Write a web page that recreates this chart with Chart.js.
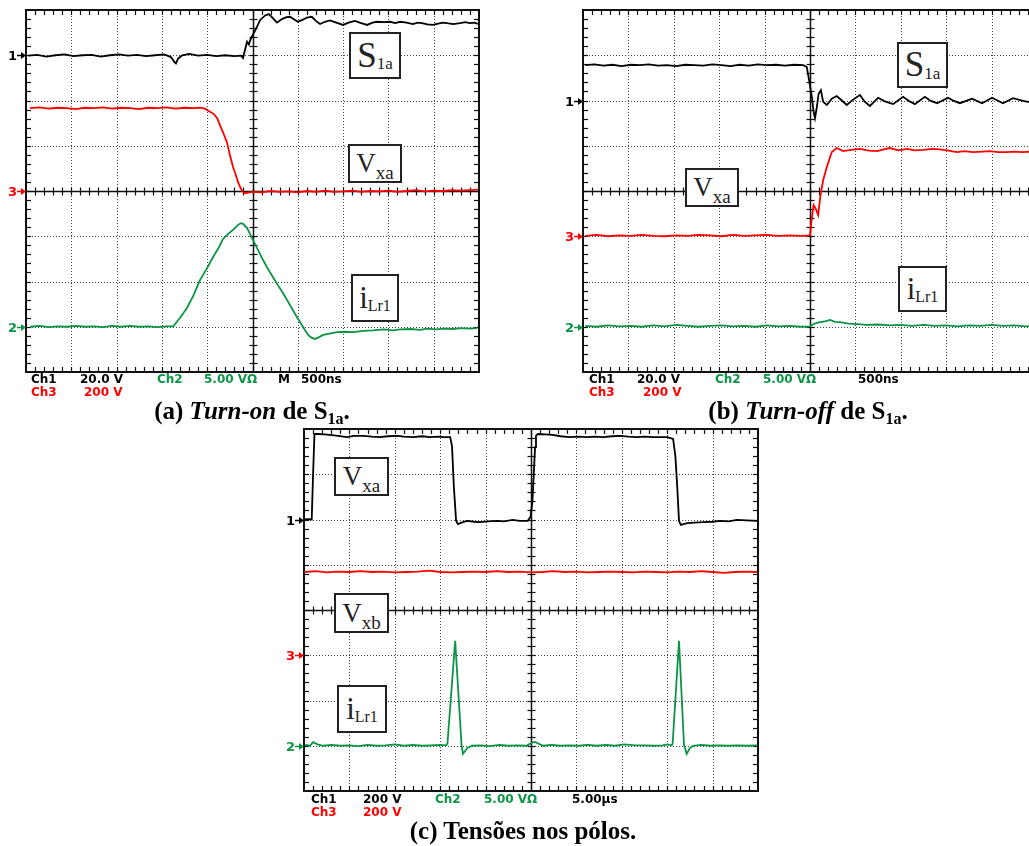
<!DOCTYPE html>
<html>
<head>
<meta charset="utf-8">
<script src="https://cdn.jsdelivr.net/npm/chart.js"></script>
<style>
  html, body { margin: 0; padding: 0; background: #fff; overflow: hidden; }
  body { width: 1029px; height: 846px; position: relative; }
  canvas { position: absolute; }
  .box { position: absolute; border: 2px solid #222; background: #fff; box-sizing: border-box;
         display: flex; justify-content: center; align-items: center; font-family: "Liberation Serif", serif; color: #222; z-index: 2; }
  .box .sub { position: relative; top: 0.5em; }
  .scope { position: absolute; font-family: "DejaVu Sans", sans-serif; font-weight: bold; font-size: 12px; line-height: 13px; white-space: pre; }
  .cap { position: absolute; font-family: "Liberation Serif", serif; font-weight: bold; font-size: 25px; line-height: 28px; text-align: center; color: #000; }
  .cap .s { font-size: 16px; position: relative; top: 0.3em; }
</style>
</head>
<body>
<canvas id="chartA" width="490" height="380" style="left:0px;top:0px"></canvas>
<canvas id="chartB" width="490" height="380" style="left:556px;top:0px"></canvas>
<canvas id="chartC" width="490" height="380" style="left:278px;top:419px"></canvas>

<div class="box" style="left:349px;top:32px;width:52px;height:47px"><span style="font-size:35px">S</span><span class="sub" style="font-size:17px">1a</span></div>
<div class="box" style="left:348px;top:144px;width:54px;height:39px"><span style="font-size:27px">V</span><span class="sub" style="font-size:19px">xa</span></div>
<div class="box" style="left:351px;top:274px;width:48px;height:48px"><span style="font-size:31px">i</span><span class="sub" style="font-size:16px">Lr1</span></div>

<div class="box" style="left:685px;top:168px;width:54px;height:39px"><span style="font-size:27px">V</span><span class="sub" style="font-size:19px">xa</span></div>
<div class="box" style="left:897px;top:42px;width:51px;height:46px"><span style="font-size:35px">S</span><span class="sub" style="font-size:17px">1a</span></div>
<div class="box" style="left:898px;top:266px;width:49px;height:46px"><span style="font-size:31px">i</span><span class="sub" style="font-size:16px">Lr1</span></div>

<div class="box" style="left:334px;top:457px;width:55px;height:39px"><span style="font-size:27px">V</span><span class="sub" style="font-size:19px">xa</span></div>
<div class="box" style="left:334px;top:593px;width:55px;height:40px"><span style="font-size:27px">V</span><span class="sub" style="font-size:19px">xb</span></div>
<div class="box" style="left:337px;top:685px;width:50px;height:48px"><span style="font-size:31px">i</span><span class="sub" style="font-size:16px">Lr1</span></div>

<div class="scope" style="left:31px;top:373px;color:#000">Ch1</div>
<div class="scope" style="left:80px;top:373px;color:#000">20.0 V</div>
<div class="scope" style="left:157px;top:373px;color:#0a9444">Ch2</div>
<div class="scope" style="left:204px;top:373px;color:#0a9444">5.00 VΩ</div>
<div class="scope" style="left:278px;top:373px;color:#000">M</div>
<div class="scope" style="left:301px;top:373px;color:#000">500ns</div>
<div class="scope" style="left:31px;top:386px;color:#f00">Ch3</div>
<div class="scope" style="left:84px;top:386px;color:#f00">200 V</div>

<div class="scope" style="left:589px;top:373px;color:#000">Ch1</div>
<div class="scope" style="left:637px;top:373px;color:#000">20.0 V</div>
<div class="scope" style="left:715px;top:373px;color:#0a9444">Ch2</div>
<div class="scope" style="left:763px;top:373px;color:#0a9444">5.00 VΩ</div>
<div class="scope" style="left:858px;top:373px;color:#000">500ns</div>
<div class="scope" style="left:589px;top:386px;color:#f00">Ch3</div>
<div class="scope" style="left:643px;top:386px;color:#f00">200 V</div>

<div class="scope" style="left:311px;top:793px;color:#000">Ch1</div>
<div class="scope" style="left:363px;top:793px;color:#000">200 V</div>
<div class="scope" style="left:435px;top:793px;color:#0a9444">Ch2</div>
<div class="scope" style="left:484px;top:793px;color:#0a9444">5.00 VΩ</div>
<div class="scope" style="left:572px;top:793px;color:#000">5.00µs</div>
<div class="scope" style="left:311px;top:806px;color:#f00">Ch3</div>
<div class="scope" style="left:363px;top:806px;color:#f00">200 V</div>

<div class="cap" style="left:52px;top:397px;width:400px">(a) <i>Turn-on</i> de S<span class="s">1a</span>.</div>
<div class="cap" style="left:608px;top:397px;width:400px">(b) <i>Turn-off</i> de S<span class="s">1a</span>.</div>
<div class="cap" style="left:323px;top:817px;width:400px">(c) Tensões nos pólos.</div>

<script>
// values in scope divisions: [time div, vertical div]
const turnOnS1a = [[0.05,2.99],[0.25,3.01],[0.45,2.97],[0.65,3.0],[0.85,3.02],[1.05,2.98],[1.25,3.0],[1.45,3.01],[1.65,2.97],[1.85,3.0],[2.05,3.02],[2.25,2.99],[2.45,3.01],[2.65,2.98],[2.85,3.0],[3.05,3.02],[3.2,2.96],[3.27,2.86],[3.31,2.82],[3.36,2.93],[3.45,3.0],[3.6,3.03],[3.8,2.99],[4.0,3.01],[4.2,2.98],[4.4,3.0],[4.6,2.98],[4.75,2.99],[4.79,2.94],[4.88,3.3],[4.92,3.24],[4.96,3.36],[5.06,3.55],[5.17,3.78],[5.28,3.88],[5.36,3.91],[5.45,3.82],[5.54,3.72],[5.65,3.8],[5.75,3.84],[5.83,3.85],[5.92,3.79],[6.0,3.74],[6.1,3.78],[6.2,3.83],[6.31,3.85],[6.4,3.76],[6.49,3.69],[6.6,3.74],[6.71,3.77],[6.85,3.72],[7.0,3.67],[7.12,3.72],[7.26,3.76],[7.4,3.71],[7.53,3.67],[7.65,3.72],[7.75,3.74],[7.9,3.73],[8.04,3.74],[8.15,3.71],[8.26,3.74],[8.4,3.72],[8.54,3.69],[8.65,3.72],[8.74,3.71],[8.86,3.68],[8.98,3.67],[9.1,3.7],[9.2,3.72],[9.29,3.71],[9.43,3.69],[9.58,3.71],[9.7,3.73],[9.8,3.71],[9.9,3.72],[9.98,3.69]];
const turnOnVxa = [[0.09,1.83],[0.3,1.85],[0.5,1.82],[0.7,1.84],[0.9,1.83],[1.1,1.81],[1.3,1.84],[1.5,1.83],[1.7,1.85],[1.9,1.82],[2.1,1.84],[2.3,1.83],[2.5,1.81],[2.7,1.84],[2.9,1.83],[3.1,1.85],[3.3,1.82],[3.5,1.84],[3.7,1.83],[3.85,1.84],[3.95,1.82],[4.06,1.75],[4.15,1.7],[4.22,1.61],[4.28,1.46],[4.36,1.27],[4.44,1.06],[4.5,0.8],[4.57,0.53],[4.63,0.36],[4.68,0.2],[4.73,0.08],[4.77,0.0],[4.82,-0.05],[4.88,-0.04],[5.0,-0.02],[5.2,-0.03],[5.4,0.0],[5.6,-0.02],[5.8,-0.01],[6.0,-0.03],[6.2,0.0],[6.4,-0.02],[6.6,0.01],[6.8,-0.02],[7.0,-0.01],[7.2,0.01],[7.4,-0.02],[7.6,0.0],[7.8,-0.01],[8.0,0.01],[8.2,-0.02],[8.4,0.0],[8.6,0.02],[8.8,-0.01],[9.0,0.01],[9.2,0.0],[9.4,0.02],[9.6,0.01],[9.8,0.02],[9.98,0.03]];
const turnOnILr1 = [[0.09,-3.0],[0.3,-2.98],[0.5,-3.01],[0.7,-2.99],[0.9,-3.0],[1.1,-2.98],[1.3,-3.0],[1.5,-2.99],[1.7,-3.01],[1.9,-2.98],[2.1,-3.0],[2.3,-2.98],[2.5,-3.0],[2.7,-2.99],[2.9,-3.01],[3.1,-2.99],[3.25,-2.99],[3.4,-2.8],[3.55,-2.59],[3.7,-2.3],[3.84,-1.97],[4.0,-1.7],[4.13,-1.46],[4.25,-1.26],[4.35,-1.06],[4.46,-0.95],[4.57,-0.86],[4.67,-0.76],[4.74,-0.71],[4.8,-0.73],[4.88,-0.82],[5.01,-1.08],[5.12,-1.3],[5.23,-1.52],[5.34,-1.72],[5.45,-1.9],[5.56,-2.08],[5.67,-2.25],[5.78,-2.44],[5.89,-2.63],[6.0,-2.82],[6.09,-2.96],[6.16,-3.08],[6.23,-3.18],[6.3,-3.24],[6.38,-3.27],[6.47,-3.23],[6.56,-3.18],[6.7,-3.15],[6.87,-3.12],[7.05,-3.11],[7.22,-3.12],[7.45,-3.09],[7.66,-3.08],[7.9,-3.06],[8.1,-3.08],[8.26,-3.06],[8.5,-3.05],[8.7,-3.07],[8.85,-3.04],[9.05,-3.06],[9.25,-3.04],[9.43,-3.05],[9.6,-3.03],[9.8,-3.04],[9.96,-3.03]];

const turnOffS1a = [[0.05,2.78],[0.25,2.8],[0.45,2.77],[0.65,2.79],[0.85,2.76],[1.05,2.79],[1.25,2.78],[1.45,2.8],[1.65,2.77],[1.85,2.78],[2.05,2.76],[2.25,2.79],[2.45,2.78],[2.65,2.77],[2.85,2.8],[3.05,2.78],[3.25,2.76],[3.45,2.79],[3.65,2.77],[3.85,2.8],[4.05,2.78],[4.25,2.79],[4.45,2.77],[4.65,2.79],[4.85,2.78],[4.93,2.74],[4.98,2.45],[5.04,2.08],[5.08,1.75],[5.11,1.61],[5.15,1.85],[5.19,2.15],[5.24,2.23],[5.29,1.97],[5.37,1.9],[5.48,2.04],[5.59,2.1],[5.7,2.0],[5.81,1.9],[5.95,2.02],[6.1,2.12],[6.2,1.98],[6.32,1.88],[6.5,2.06],[6.65,1.98],[6.83,1.92],[7.05,2.08],[7.18,1.99],[7.31,1.92],[7.53,2.08],[7.66,1.99],[7.8,1.94],[8.04,2.06],[8.17,1.99],[8.3,1.94],[8.57,2.04],[8.79,1.94],[9.01,2.06],[9.13,2.0],[9.25,1.94],[9.47,2.05],[9.69,1.99],[9.8,1.97],[9.98,2.0]];
const turnOffVxa = [[0.05,-0.99],[0.3,-0.97],[0.55,-1.0],[0.8,-0.98],[1.05,-0.99],[1.3,-0.97],[1.55,-0.99],[1.8,-1.0],[2.05,-0.98],[2.3,-0.99],[2.55,-0.97],[2.8,-0.98],[3.05,-1.0],[3.3,-0.97],[3.55,-0.99],[3.8,-0.98],[4.05,-0.97],[4.3,-0.99],[4.55,-0.98],[4.8,-0.99],[5.0,-0.98],[5.04,-0.6],[5.08,-0.31],[5.13,-0.4],[5.18,-0.53],[5.23,-0.1],[5.29,0.24],[5.37,0.53],[5.48,0.86],[5.59,0.95],[5.73,0.88],[5.9,0.91],[6.1,0.93],[6.3,0.89],[6.48,0.88],[6.62,0.92],[6.76,0.95],[6.95,0.9],[7.14,0.93],[7.3,0.9],[7.49,0.91],[7.7,0.93],[7.86,0.92],[8.05,0.89],[8.24,0.86],[8.4,0.88],[8.59,0.86],[8.8,0.87],[8.96,0.88],[9.15,0.86],[9.34,0.86],[9.5,0.87],[9.69,0.86],[9.85,0.87],[9.98,0.86]];
const turnOffILr1 = [[0.05,-2.98],[0.3,-3.0],[0.55,-2.97],[0.8,-2.99],[1.05,-2.98],[1.3,-3.0],[1.55,-2.97],[1.8,-2.99],[2.05,-2.96],[2.3,-2.98],[2.55,-3.0],[2.8,-2.98],[3.05,-2.97],[3.3,-2.99],[3.55,-2.98],[3.8,-3.0],[4.05,-2.97],[4.3,-2.99],[4.55,-2.98],[4.8,-3.0],[5.0,-2.99],[5.1,-2.93],[5.22,-2.9],[5.33,-2.88],[5.44,-2.85],[5.55,-2.89],[5.66,-2.9],[5.85,-2.93],[6.04,-2.94],[6.25,-2.96],[6.5,-2.95],[6.75,-2.97],[7.0,-2.96],[7.25,-2.98],[7.5,-2.96],[7.75,-2.98],[8.0,-2.97],[8.25,-2.99],[8.5,-2.97],[8.75,-2.98],[9.0,-2.96],[9.25,-2.98],[9.5,-2.97],[9.75,-2.99],[9.98,-2.98]];

const polesVxa = [[0.02,2.0],[0.1,2.01],[0.17,2.0],[0.2,3.0],[0.23,3.89],[0.29,3.89],[0.45,3.88],[0.57,3.87],[0.75,3.85],[0.95,3.82],[1.1,3.85],[1.3,3.85],[1.5,3.83],[1.67,3.82],[1.85,3.84],[2.05,3.85],[2.2,3.83],[2.4,3.82],[2.6,3.84],[2.78,3.82],[2.95,3.83],[3.1,3.82],[3.22,3.82],[3.26,3.62],[3.3,2.74],[3.35,1.97],[3.39,1.9],[3.5,1.94],[3.59,1.97],[3.75,1.95],[3.88,1.94],[4.05,1.96],[4.25,1.97],[4.4,1.96],[4.6,1.99],[4.75,1.97],[4.93,1.97],[4.99,2.06],[5.03,2.39],[5.09,3.6],[5.11,3.85],[5.15,3.89],[5.3,3.88],[5.48,3.87],[5.65,3.84],[5.86,3.82],[6.05,3.83],[6.23,3.82],[6.4,3.83],[6.59,3.82],[6.78,3.84],[6.96,3.85],[7.15,3.83],[7.33,3.82],[7.5,3.83],[7.69,3.82],[7.85,3.82],[8.0,3.82],[8.13,3.78],[8.18,3.4],[8.22,2.74],[8.26,1.97],[8.3,1.88],[8.44,1.92],[8.6,1.93],[8.79,1.94],[9.0,1.95],[9.16,1.97],[9.35,1.96],[9.54,1.99],[9.75,1.98],[9.98,1.97]];
const polesVxb = [[0.02,0.84],[0.25,0.86],[0.5,0.83],[0.75,0.85],[1.0,0.84],[1.25,0.86],[1.5,0.84],[1.75,0.85],[2.0,0.83],[2.25,0.84],[2.5,0.85],[2.75,0.87],[3.0,0.84],[3.25,0.83],[3.5,0.84],[3.75,0.85],[4.0,0.84],[4.25,0.86],[4.5,0.84],[4.75,0.85],[5.0,0.83],[5.25,0.84],[5.5,0.86],[5.75,0.84],[6.0,0.85],[6.25,0.83],[6.5,0.84],[6.75,0.85],[7.0,0.84],[7.25,0.83],[7.5,0.85],[7.75,0.84],[8.0,0.83],[8.25,0.85],[8.5,0.84],[8.75,0.86],[9.0,0.84],[9.25,0.82],[9.5,0.84],[9.75,0.85],[9.98,0.84]];
const polesILr1 = [[0.02,-2.98],[0.13,-3.0],[0.2,-2.92],[0.3,-2.97],[0.42,-3.0],[0.6,-2.98],[0.8,-3.0],[1.0,-2.99],[1.2,-3.01],[1.4,-2.98],[1.6,-3.0],[1.8,-2.99],[2.0,-2.97],[2.2,-3.0],[2.4,-2.98],[2.6,-3.0],[2.8,-2.99],[3.0,-2.98],[3.13,-2.99],[3.16,-2.95],[3.33,-0.68],[3.47,-2.98],[3.5,-3.18],[3.6,-3.05],[3.7,-3.0],[3.9,-2.99],[4.1,-3.01],[4.3,-2.98],[4.5,-3.0],[4.7,-2.99],[4.9,-3.0],[5.04,-2.92],[5.1,-2.92],[5.26,-3.0],[5.45,-2.98],[5.65,-3.0],[5.85,-2.99],[6.05,-3.0],[6.25,-2.98],[6.45,-3.0],[6.65,-2.98],[6.85,-3.0],[7.05,-2.97],[7.3,-2.99],[7.5,-2.99],[7.7,-3.0],[7.9,-2.99],[8.0,-2.97],[8.1,-2.99],[8.12,-2.95],[8.26,-0.68],[8.37,-2.98],[8.43,-3.18],[8.5,-3.05],[8.57,-3.0],[8.75,-2.98],[8.95,-3.0],[9.15,-2.99],[9.35,-3.0],[9.55,-2.99],[9.75,-3.0],[9.98,-2.99]];

// ground reference markers: [label, level]
const groundsA = [['1', 3], ['3', 0], ['2', -3]];
const groundsB = [['1', 2], ['3', -1], ['2', -3]];
const groundsC = [['1', 2], ['3', -1], ['2', -3]];

const BLACK = '#000000', RED = '#ff0000', GREEN = '#0a9444';
const chColor = { '1': BLACK, '3': RED, '2': GREEN };

const scopeGrid = {
  id: 'scopeGrid',
  beforeDatasetsDraw(chart) {
    const { ctx, chartArea: a, scales: { x, y } } = chart;
    const px = v => Math.round(x.getPixelForValue(v)) + 0.5;
    const py = v => Math.round(y.getPixelForValue(v)) + 0.5;
    const line = (x1, y1, x2, y2) => { ctx.beginPath(); ctx.moveTo(x1, y1); ctx.lineTo(x2, y2); ctx.stroke(); };
    ctx.save();
    ctx.strokeStyle = '#444';
    ctx.lineWidth = 1;
    ctx.setLineDash([1, 2]);
    for (let i = 1; i < 10; i++) { if (i !== 5) line(px(i), a.top, px(i), a.bottom); }
    for (let j = -3; j <= 3; j++) { if (j !== 0) line(a.left, py(j), a.right, py(j)); }
    ctx.setLineDash([]);
    ctx.strokeStyle = '#111';
    ctx.lineWidth = 1.5;
    line(px(5), a.top, px(5), a.bottom);
    line(a.left, py(0), a.right, py(0));
    ctx.lineWidth = 1.2;
    for (let k = 1; k < 50; k++) {
      const xx = px(k / 5);
      line(xx, a.top, xx, a.top + 5);
      line(xx, a.bottom, xx, a.bottom - 5);
      line(xx, py(0) - 4, xx, py(0) + 4);
    }
    for (let k = 1; k < 40; k++) {
      const yy = py(-4 + k / 5);
      line(a.left, yy, a.left + 5, yy);
      line(a.right, yy, a.right - 5, yy);
      line(px(5) - 4, yy, px(5) + 4, yy);
    }
    ctx.lineWidth = 2;
    ctx.strokeRect(a.left, a.top, a.right - a.left, a.bottom - a.top);
    ctx.restore();
  },
  afterDraw(chart, args, opts) {
    const { ctx, chartArea: a, scales: { y } } = chart;
    ctx.save();
    ctx.font = 'bold 13px "DejaVu Sans"';
    ctx.textAlign = 'right';
    ctx.textBaseline = 'middle';
    (opts.grounds || []).forEach(([lab, lvl]) => {
      const yy = Math.round(y.getPixelForValue(lvl)) + 0.5;
      const c = chColor[lab];
      ctx.fillStyle = c;
      ctx.strokeStyle = c;
      ctx.fillText(lab, a.left - 9, yy + 1);
      ctx.lineWidth = 1.5;
      ctx.beginPath(); ctx.moveTo(a.left - 9, yy); ctx.lineTo(a.left - 2, yy); ctx.stroke();
      ctx.beginPath(); ctx.moveTo(a.left, yy); ctx.lineTo(a.left - 5, yy - 3.5); ctx.lineTo(a.left - 5, yy + 3.5); ctx.closePath(); ctx.fill();
    });
    ctx.restore();
  }
};

function trace(points, color) {
  return {
    data: points.map(p => ({ x: p[0], y: p[1] })),
    borderColor: color,
    borderWidth: 1.8,
    pointRadius: 0,
    tension: 0,
    fill: false
  };
}

function scopeChart(id, traces, grounds, pad) {
  return new Chart(document.getElementById(id), {
    type: 'line',
    data: { datasets: traces },
    options: {
      responsive: false,
      animation: false,
      devicePixelRatio: 1,
      layout: { padding: pad },
      scales: {
        x: { type: 'linear', min: 0, max: 10, display: false },
        y: { type: 'linear', min: -4, max: 4, display: false }
      },
      plugins: {
        legend: { display: false },
        tooltip: { enabled: false },
        scopeGrid: { grounds: grounds }
      }
    },
    plugins: [scopeGrid]
  });
}

scopeChart('chartA', [trace(turnOnILr1, GREEN), trace(turnOnVxa, RED), trace(turnOnS1a, BLACK)], groundsA,
  { left: 26, top: 10, right: 11, bottom: 8 });
scopeChart('chartB', [trace(turnOffILr1, GREEN), trace(turnOffVxa, RED), trace(turnOffS1a, BLACK)], groundsB,
  { left: 27, top: 10, right: 9, bottom: 8 });
scopeChart('chartC', [trace(polesILr1, GREEN), trace(polesVxb, RED), trace(polesVxa, BLACK)], groundsC,
  { left: 26, top: 10, right: 10, bottom: 8 });
</script>
</body>
</html>
